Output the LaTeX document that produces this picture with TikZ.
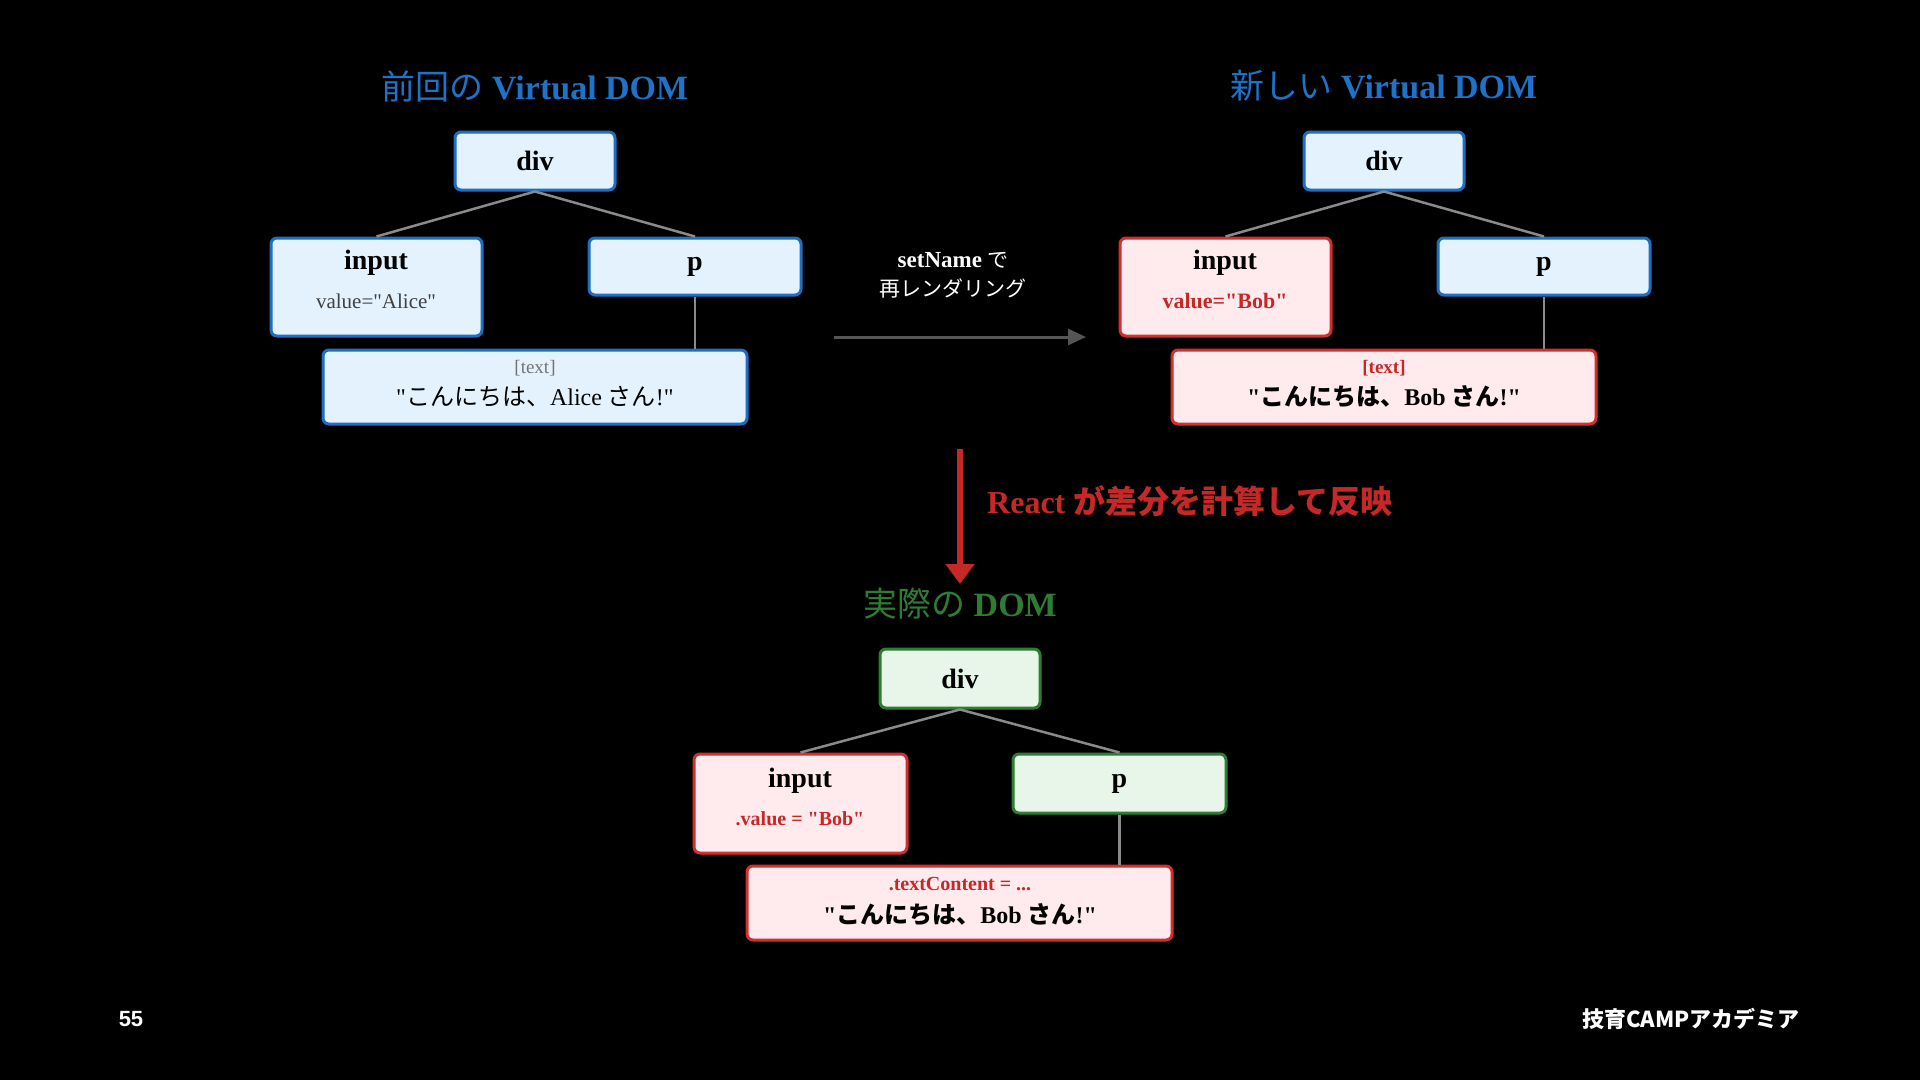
\documentclass[tikz,border=0pt]{standalone}
\usepackage{fontspec}
\usetikzlibrary{arrows.meta}
\setmainfont{Liberation Serif}[Ligatures=TeXOff]
\newfontfamily\jp{Noto Sans CJK JP}
\newfontfamily\sansf{Liberation Sans}
\definecolor{bstroke}{HTML}{1E6FC4}
\definecolor{bfill}{HTML}{E3F2FD}
\definecolor{rstroke}{HTML}{D32F2F}
\definecolor{rfill}{HTML}{FFEBEE}
\definecolor{gstroke}{HTML}{2E7D32}
\definecolor{gfill}{HTML}{E8F5E9}
\definecolor{tblue}{HTML}{1E72C8}
\definecolor{tred}{HTML}{C62828}
\definecolor{tgreen}{HTML}{2E7D32}
\definecolor{lgray}{HTML}{8A8A8A}
\definecolor{agray}{HTML}{555555}
\newcommand{\fsz}[1]{\fontsize{#1}{#1}\selectfont}
\tikzset{
  box/.style={rounded corners=6pt, line width=3pt, inner sep=0pt, text=black, font=\fsz{28}\bfseries},
  bluebox/.style={box, draw=bstroke, fill=bfill},
  redbox/.style={box, draw=rstroke, fill=rfill},
  greenbox/.style={box, draw=gstroke, fill=gfill},
  conn/.style={draw=lgray, line width=2.5pt},
  lab/.style={inner sep=0pt, text=black},
  title/.style={inner sep=0pt, font=\fsz{34}},
}
\begin{document}
\begin{tikzpicture}[x=1pt,y=-1pt]
\fill[black] (0,0) rectangle (1920,1080);
\useasboundingbox (0,0) rectangle (1920,1080);

% ---------- left tree ----------
\node[title, text=tblue] (ltitle) at (535,86) {{\jp 前回の} \textbf{Virtual DOM}};
\node[bluebox, minimum width=160, minimum height=58] (ldiv) at (535,161) {div};
\node[bluebox, minimum width=211, minimum height=98] (lin) at (376.5,287) {};
\node[bluebox, minimum width=212, minimum height=57] (lp) at (695,266.5) {p};
\node[bluebox, minimum width=424, minimum height=74] (ltx) at (535,387) {};
\node[lab, font=\fsz{28}\bfseries] (linA) at (376,263) {input};
\node[lab, font=\fsz{21}, text=black!75] (linB) at (376,301) {value="Alice"};
\node[lab, font=\fsz{19}, text=black!55] (ltxA) at (535,368) {[text]};
\node[lab, font=\fsz{24}] (ltxB) at (535,397) {"{\jp こんにちは、}Alice {\jp さん}!"};
\draw[conn] (ldiv.south) -- (lin.north);
\draw[conn] (ldiv.south) -- (lp.north);
\draw[conn] (lp.south) -- (lp.south |- ltx.north);

% ---------- right tree ----------
\node[title, text=tblue] (rtitle) at (1384,86) {{\jp 新しい} \textbf{Virtual DOM}};
\node[bluebox, minimum width=160, minimum height=58] (rdiv) at (1384,161) {div};
\node[redbox, minimum width=211, minimum height=98] (rin) at (1225.5,287) {};
\node[bluebox, minimum width=212, minimum height=57] (rp) at (1544,266.5) {p};
\node[redbox, minimum width=424, minimum height=74] (rtx) at (1384,387) {};
\node[lab, font=\fsz{28}\bfseries] (rinA) at (1225,263) {input};
\node[lab, font=\fsz{22}\bfseries, text=tred] (rinB) at (1225,301) {value="Bob"};
\node[lab, font=\fsz{19}\bfseries, text=tred] (rtxA) at (1384,368) {[text]};
\node[lab, font=\fsz{24}\bfseries] (rtxB) at (1384,397) {"{\jp こんにちは、}Bob {\jp さん}!"};
\draw[conn] (rdiv.south) -- (rin.north);
\draw[conn] (rdiv.south) -- (rp.north);
\draw[conn] (rp.south) -- (rp.south |- rtx.north);

% ---------- re-render arrow ----------
\coordinate (ha1) at (834,337);
\coordinate (ha2) at (1086,337);
\draw[agray, line width=3pt, -{Triangle[length=18pt,width=16pt]}] (ha1) -- (ha2);
\node[lab, text=white, font=\fsz{21}] (hlA) at (953,260) {{\fsz{23}\textbf{setName}} {\jp で}};
\node[lab, text=white, font=\fsz{21}] (hlB) at (953,288) {\jp 再レンダリング};

% ---------- diff arrow ----------
\coordinate (va1) at (960,449);
\coordinate (va2) at (960,584);
\draw[tred, line width=6pt, -{Triangle[length=20pt,width=28pt]}] (va1) -- (va2);
\node[lab, anchor=west, text=tred, font=\fsz{32}\bfseries] (vlab) at (987,501) {React {\jp が差分を計算して反映}};

% ---------- actual DOM ----------
\node[title, text=tgreen] (btitle) at (960,604) {{\jp 実際の} \textbf{DOM}};
\node[greenbox, minimum width=160, minimum height=59] (bdiv) at (960,678.5) {div};
\node[redbox, minimum width=213, minimum height=99] (bin) at (800.5,803.5) {};
\node[greenbox, minimum width=213, minimum height=59] (bp) at (1119.5,783.5) {p};
\node[redbox, minimum width=425, minimum height=74] (btx) at (959.5,903) {};
\node[lab, font=\fsz{28}\bfseries] (binA) at (800,781) {input};
\node[lab, font=\fsz{20}\bfseries, text=tred] (binB) at (800,819) {.value = "Bob"};
\node[lab, font=\fsz{20}\bfseries, text=tred] (btxA) at (960,884) {.textContent = ...};
\node[lab, font=\fsz{24}\bfseries] (btxB) at (960,915) {"{\jp こんにちは、}Bob {\jp さん}!"};
\draw[conn] (bdiv.south) -- (bin.north);
\draw[conn] (bdiv.south) -- (bp.north);
\draw[conn] (bp.south) -- (bp.south |- btx.north);

% ---------- footer ----------
\node[lab, text=white, font=\fsz{22}\sansf\bfseries] (pnum) at (131,1019) {55};
\node[lab, anchor=east, text=white, font=\fsz{22}\bfseries] (brand) at (1800,1019) {\jp 技育CAMPアカデミア};
\end{tikzpicture}
\end{document}
